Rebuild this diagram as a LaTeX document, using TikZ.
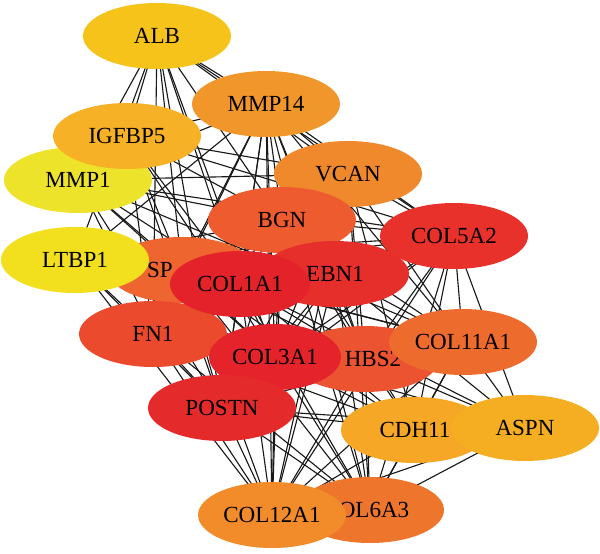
\documentclass[tikz,border=0pt]{standalone}
\usepackage{fontspec}
\setmainfont{Liberation Serif}
\usetikzlibrary{shapes.geometric,backgrounds}

\definecolor{cALB}{HTML}{F5C31A}
\definecolor{cMMPa}{HTML}{F0962B}
\definecolor{cMMPb}{HTML}{EDE32A}
\definecolor{cIGF}{HTML}{F6B126}
\definecolor{cVCAN}{HTML}{F0892C}
\definecolor{cBGN}{HTML}{EE5B2F}
\definecolor{cCOLva}{HTML}{E8312B}
\definecolor{cSP}{HTML}{EE6530}
\definecolor{cLTBP}{HTML}{F2DF1D}
\definecolor{cFN}{HTML}{EB4A2D}
\definecolor{cFBN}{HTML}{E62E2B}
\definecolor{cCOLia}{HTML}{E3222A}
\definecolor{cTHBS}{HTML}{EC5330}
\definecolor{cCOLxia}{HTML}{EE6B2E}
\definecolor{cCOLiiia}{HTML}{E4232B}
\definecolor{cPOSTN}{HTML}{E42A2B}
\definecolor{cCDH}{HTML}{F5A725}
\definecolor{cASPN}{HTML}{F5AE21}
\definecolor{cCOLvia}{HTML}{EE752C}
\definecolor{cCOLxiia}{HTML}{F28B2A}

\begin{document}
\begin{tikzpicture}[x=0.25mm,y=-0.25mm,
  gene/.style={ellipse,draw=none,minimum width=37mm,minimum height=16.5mm,inner sep=0pt,font=\fontsize{16.4pt}{18pt}\selectfont},
  tag/.style={inner sep=0pt,font=\fontsize{16.4pt}{18pt}\selectfont},
  link/.style={line width=0.8pt,black!90}]
\useasboundingbox (0,0) rectangle (600,554);
% genes, back to front
\node[gene,fill=cALB] (alb) at (157,36) {ALB};
\node[gene,fill=cMMPa] (mmp14) at (266,104) {MMP14};
\node[gene,fill=cMMPb] (mmp1) at (78,180) {MMP1};
\node[gene,fill=cIGF] (igfbp5) at (127,136) {IGFBP5};
\node[gene,fill=cVCAN] (vcan) at (348,174) {VCAN};
\node[gene,fill=cBGN] (bgn) at (282,220) {BGN};
\node[gene,fill=cCOLva] (col5a2) at (454,236) {COL5A2};
\node[gene,fill=cSP,label={[tag,xshift=-5.5mm]center:SP}] (sparc) at (182,270) {};
\node[gene,fill=cLTBP] (ltbp1) at (75,260) {LTBP1};
\node[gene,fill=cFN] (fn1) at (153,334) {FN1};
\node[gene,fill=cFBN] (fbn1) at (335,274) {EBN1};
\node[gene,fill=cCOLia,minimum width=35mm] (col1a1) at (240,284) {COL1A1};
\node[gene,fill=cTHBS,label={[tag,xshift=2mm]center:HBS2}] (thbs2) at (365,359) {};
\node[gene,fill=cCOLxia] (col11a1) at (463,342) {COL11A1};
\node[gene,fill=cCOLiiia,minimum width=33mm] (col3a1) at (275,357) {COL3A1};
\node[gene,fill=cPOSTN] (postn) at (222,408) {POSTN};
\node[gene,fill=cCDH] (cdh11) at (415,430) {CDH11};
\node[gene,fill=cASPN] (aspn) at (525,428) {ASPN};
\node[gene,fill=cCOLvia,label={[tag,xshift=1mm]center:OL6A3}] (col6a3) at (370,510) {};
\node[gene,fill=cCOLxiia] (col12a1) at (272,515) {COL12A1};
% interactions
\begin{pgfonlayer}{background}
\foreach \a/\nbrs in {
  alb/{mmp14,igfbp5,mmp1,ltbp1,fn1,col1a1,col3a1,postn,bgn,sparc,vcan,col5a2},
  igfbp5/{mmp14,mmp1,col1a1,col3a1,fn1,postn,bgn,vcan,sparc,col5a2},
  mmp1/{mmp14,col1a1,col3a1,fn1,sparc,bgn,vcan,postn,col5a2,col11a1},
  ltbp1/{fn1,col1a1,col3a1,fbn1,bgn,postn,col5a2,mmp14,col12a1},
  cdh11/{col1a1,col3a1,col5a2,col11a1,postn,fn1,col12a1,col6a3,aspn,thbs2,sparc,vcan,bgn},
  aspn/{col1a1,col3a1,col5a2,col11a1,postn,col12a1,col6a3,fbn1,thbs2},
  col1a1/{col3a1,col5a2,col11a1,col12a1,col6a3,postn,fn1,sparc,fbn1,bgn,vcan,thbs2,mmp14},
  col3a1/{col5a2,col11a1,col12a1,col6a3,postn,fn1,sparc,fbn1,bgn,vcan,thbs2,mmp14},
  col5a2/{col11a1,col12a1,col6a3,postn,fn1,sparc,fbn1,bgn,vcan,thbs2,mmp14},
  col11a1/{col12a1,col6a3,postn,fn1,sparc,fbn1,bgn,vcan,thbs2,mmp14},
  col12a1/{col6a3,postn,fn1,sparc,fbn1,bgn,vcan,thbs2,mmp14},
  col6a3/{postn,fn1,sparc,fbn1,bgn,vcan,thbs2,mmp14},
  postn/{fn1,sparc,fbn1,bgn,vcan,thbs2,mmp14},
  fn1/{sparc,fbn1,bgn,vcan,thbs2,mmp14},
  sparc/{fbn1,bgn,vcan,thbs2,mmp14},
  fbn1/{bgn,vcan,thbs2,mmp14},
  bgn/{vcan,thbs2,mmp14},
  vcan/{thbs2,mmp14},
  thbs2/{mmp14}}{
  \foreach \b in \nbrs {\draw[link] (\a.center) -- (\b.center);}
}
\end{pgfonlayer}
\end{tikzpicture}
\end{document}
